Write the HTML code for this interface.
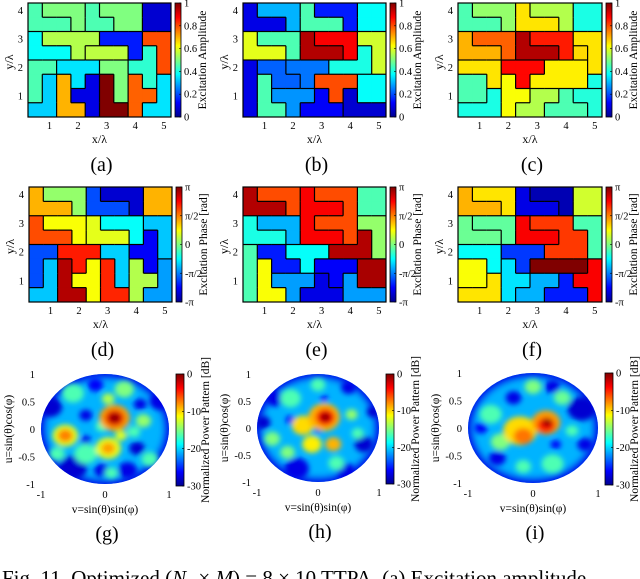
<!DOCTYPE html>
<html><head><meta charset="utf-8"><style>
html,body{margin:0;padding:0;background:#fff;}
svg{display:block;font-family:"Liberation Serif",serif;}
</style></head><body>
<svg id="fig" width="640" height="579" viewBox="0 0 640 579" xmlns="http://www.w3.org/2000/svg">
<defs>
<filter id="blur" x="-30%" y="-30%" width="160%" height="160%"><feGaussianBlur stdDeviation="2.6"/></filter>
<filter id="blur2" x="-30%" y="-30%" width="160%" height="160%"><feGaussianBlur stdDeviation="4"/></filter>
<linearGradient id="jetgrad" x1="0" y1="1" x2="0" y2="0">
<stop offset="0" stop-color="#00008f"/><stop offset="0.125" stop-color="#0000ff"/><stop offset="0.375" stop-color="#00ffff"/><stop offset="0.625" stop-color="#ffff00"/><stop offset="0.875" stop-color="#ff0000"/><stop offset="1" stop-color="#800000"/>
</linearGradient>
</defs>
<text x="2" y="585" font-size="21" text-anchor="start">Fig. 11.  Optimized (<tspan font-style="italic">N</tspan><tspan font-size="14" dy="3">x</tspan><tspan dy="-3"> × </tspan><tspan font-style="italic">M</tspan>) = 8 × 10 TTPA. (a) Excitation amplitude</text>
</svg>
<script>
// ---- data (values normalized 0..1 on the colorbar scale; phase: -pi..pi -> 0..1) ----
const ampA = [
[0.45,0.5,0.5,0.5,0.45,0.5,0.5,0.5,0.08,0.08],
[0.45,0.45,0.45,0.5,0.45,0.45,0.5,0.5,0.08,0.08],
[0.38,0.55,0.55,0.55,0.55,0.15,0.15,0.15,0.8,0.8],
[0.38,0.38,0.38,0.55,0.56,0.56,0.56,0.15,0.42,0.8],
[0.45,0.45,0.35,0.35,0.35,0.5,0.5,0.42,0.42,0.8],
[0.45,0.33,0.7,0.35,0.1,1.0,0.5,0.78,0.42,0.35],
[0.45,0.33,0.7,0.1,0.1,1.0,0.5,0.78,0.78,0.35],
[0.33,0.33,0.7,0.7,0.1,1.0,1.0,0.78,0.35,0.35]];
const ampB = [
[0.1,0.3,0.3,0.3,0.45,0.15,0.15,0.15,0.38,0.38],
[0.1,0.1,0.1,0.3,0.45,0.45,0.45,0.15,0.38,0.38],
[0.6,0.45,0.45,0.45,0.95,0.88,0.88,0.88,0.58,0.58],
[0.6,0.6,0.6,0.45,0.95,0.95,0.95,0.88,0.4,0.58],
[0.1,0.22,0.22,0.24,0.24,0.24,0.4,0.4,0.4,0.58],
[0.1,0.45,0.22,0.22,0.24,0.8,0.8,0.8,0.38,0.38],
[0.1,0.45,0.27,0.27,0.27,0.12,0.8,0.08,0.38,0.38],
[0.1,0.45,0.45,0.27,0.12,0.12,0.12,0.08,0.08,0.08]];
const ampC = [
[0.45,0.52,0.52,0.52,0.65,0.55,0.55,0.55,0.4,0.4],
[0.45,0.45,0.45,0.52,0.65,0.65,0.65,0.55,0.4,0.4],
[0.7,0.78,0.78,0.78,0.95,0.85,0.85,0.85,0.65,0.65],
[0.7,0.7,0.7,0.78,0.95,0.95,0.95,0.85,0.66,0.65],
[0.65,0.65,0.65,0.87,0.87,0.87,0.64,0.64,0.64,0.65],
[0.45,0.45,0.65,0.62,0.87,0.64,0.64,0.64,0.64,0.4],
[0.45,0.45,0.4,0.62,0.62,0.55,0.55,0.45,0.41,0.41],
[0.4,0.4,0.4,0.62,0.55,0.55,0.45,0.45,0.45,0.41]];
const phaseD = [
[0.7,0.52,0.52,0.52,0.2,0.08,0.08,0.08,0.7,0.7],
[0.7,0.7,0.7,0.52,0.2,0.2,0.2,0.08,0.7,0.7],
[0.8,0.62,0.62,0.62,0.6,0.38,0.38,0.38,0.32,0.32],
[0.8,0.8,0.8,0.62,0.6,0.6,0.6,0.38,0.12,0.32],
[0.2,0.2,0.85,0.85,0.85,0.33,0.33,0.12,0.12,0.32],
[0.2,0.32,0.95,0.85,0.62,0.84,0.33,0.55,0.12,0.28],
[0.2,0.32,0.95,0.62,0.62,0.84,0.33,0.55,0.55,0.28],
[0.32,0.32,0.95,0.95,0.62,0.84,0.84,0.55,0.28,0.28]];
const phaseE = [
[0.95,0.8,0.8,0.8,0.88,0.8,0.8,0.8,0.45,0.45],
[0.95,0.95,0.95,0.8,0.88,0.88,0.88,0.8,0.45,0.45],
[0.4,0.3,0.3,0.3,0.88,0.8,0.8,0.8,0.52,0.52],
[0.4,0.4,0.4,0.3,0.88,0.88,0.88,0.8,0.95,0.52],
[0.45,0.15,0.15,0.38,0.38,0.38,0.95,0.95,0.95,0.52],
[0.45,0.62,0.15,0.15,0.38,0.12,0.12,0.12,0.96,0.96],
[0.45,0.62,0.28,0.28,0.28,0.1,0.12,0.28,0.96,0.96],
[0.45,0.62,0.62,0.28,0.1,0.1,0.1,0.28,0.28,0.28]];
const phaseF = [
[0.7,0.65,0.65,0.65,0.1,0.05,0.05,0.05,0.58,0.58],
[0.7,0.7,0.7,0.65,0.1,0.1,0.1,0.05,0.58,0.58],
[0.48,0.47,0.47,0.47,0.88,0.82,0.82,0.82,0.45,0.45],
[0.48,0.48,0.48,0.47,0.88,0.88,0.88,0.82,0.82,0.45],
[0.38,0.38,0.38,0.18,0.18,0.18,0.82,0.82,0.82,0.45],
[0.62,0.62,0.38,0.35,0.18,1.0,1.0,1.0,1.0,0.88],
[0.62,0.62,0.65,0.35,0.35,0.3,0.3,0.15,0.88,0.88],
[0.65,0.65,0.65,0.35,0.3,0.3,0.15,0.15,0.15,0.88]];
const xTicks = [1,2,3,4,5];
const yTicks = [1,2,3,4];
const ampTickLabels = ["0","0.2","0.4","0.6","0.8","1"];
const phaseTickLabels = ["-π","-π/2","0","π/2","π"];
const dbTickLabels = ["-30","-20","-10","0"];
const patTicks = [-1,-0.5,0,0.5,1];
// radiation-pattern lobes: [v, u, radius, level(0..1)]
const lobesG = [[-0.85,0.4,0.18,0.08],[-0.5,-0.7,0.22,0.08],[-0.05,-0.75,0.12,0.1],[0.5,-0.35,0.12,0.08],[0.85,0.5,0.15,0.1],[-0.3,0.25,0.1,0.1],[0.35,-0.75,0.15,0.1],[0.55,0.45,0.1,0.1],[-0.15,0.8,0.12,0.12],[-0.3,-0.2,0.08,0.1],
[-0.5,0.65,0.17,0.45],[0.3,0.72,0.15,0.5],[-0.3,-0.45,0.18,0.45],[0.6,0.15,0.12,0.52],[0.7,-0.55,0.13,0.45],[0.05,0.55,0.1,0.55],[-0.05,0.05,0.1,0.45],[0.45,-0.05,0.1,0.45],[-0.75,-0.45,0.12,0.45],[0.1,-0.8,0.1,0.45],
[-0.62,-0.12,0.2,0.6],[-0.62,-0.12,0.12,0.75],[0.05,-0.35,0.2,0.6],[0.05,-0.35,0.11,0.72],[0.25,-0.12,0.09,0.6],[0.15,0.2,0.24,0.72],[0.15,0.2,0.15,0.9],[0.15,0.2,0.08,1.0]];
const lobesH = [[-0.9,0.1,0.12,0.08],[0.75,-0.3,0.15,0.08],[-0.35,-0.75,0.2,0.1],[0.5,0.75,0.12,0.1],[0.1,0.55,0.06,0.12],[0.0,-0.05,0.05,0.12],[-0.7,0.55,0.15,0.1],[0.45,-0.8,0.15,0.1],[-0.45,0.15,0.08,0.12],[0.9,0.3,0.1,0.08],
[-0.45,0.55,0.17,0.45],[-0.75,-0.2,0.13,0.5],[0.55,0.25,0.1,0.52],[0.3,-0.65,0.13,0.45],[-0.5,-0.45,0.12,0.5],[0.0,0.8,0.12,0.45],[0.65,-0.1,0.1,0.45],
[-0.25,0.05,0.18,0.66],[-0.1,-0.3,0.16,0.64],[0.25,-0.3,0.13,0.7],[0.1,0.2,0.26,0.7],[0.12,0.2,0.16,0.88],[0.12,0.2,0.08,1.0]];
const lobesI = [[0.75,0.35,0.22,0.08],[0.8,-0.3,0.12,0.1],[-0.3,0.55,0.12,0.1],[-0.55,-0.55,0.13,0.1],[0.1,-0.05,0.05,0.15],[0.3,0.75,0.12,0.1],[-0.8,0.0,0.1,0.12],[0.35,-0.3,0.08,0.12],
[-0.65,0.25,0.17,0.45],[-0.5,-0.25,0.15,0.5],[0.3,-0.65,0.17,0.45],[0.0,0.75,0.13,0.5],[0.45,0.55,0.13,0.48],[-0.15,-0.7,0.12,0.45],[0.6,-0.05,0.1,0.45],
[-0.2,-0.05,0.26,0.66],[-0.15,-0.15,0.15,0.76],[0.2,0.1,0.22,0.72],[0.2,0.05,0.14,0.85],[0.22,0.1,0.08,0.97]];

const NS="http://www.w3.org/2000/svg";
const svg=document.getElementById('fig');
function el(tag,attrs,parent,text){const e=document.createElementNS(NS,tag);for(const k in attrs)e.setAttribute(k,attrs[k]);if(text!==undefined)e.textContent=text;(parent||svg).appendChild(e);return e;}
function jet(t){const c=v=>Math.max(0,Math.min(1,v));const r=c(1.5-Math.abs(4*t-3)),g=c(1.5-Math.abs(4*t-2)),b=c(1.5-Math.abs(4*t-1));return `rgb(${Math.round(r*255)},${Math.round(g*255)},${Math.round(b*255)})`;}

function colorbar(g,x,y0,y1,w,labels,title,name){
  const r=el('rect',{x:x,y:y0,width:w,height:y1-y0,fill:'url(#jetgrad)',stroke:'#000','stroke-width':0.8},g);
  
  
  labels.forEach((l,i)=>{const yy=y1-(y1-y0)*i/(labels.length-1);
    el('line',{x1:x+w-2,x2:x+w,y1:yy,y2:yy,stroke:'#000','stroke-width':0.6},g);
    const t=el('text',{x:x+w+3,y:yy+3.5,'font-size':10.5},g,l);
    
    });
  const tt=el('text',{x:0,y:0,'font-size':11.5,'text-anchor':'middle',transform:`translate(${x+w+25},${(y0+y1)/2}) rotate(-90)`},g,title);
  
  
}

function heatPanel(data,x0,y0,w,h,label,cbTitle,cbLabels,name){
  const g=el('g',{});
  
  
  const cols=10,rows=8,cw=w/cols,ch=h/rows;
  data.forEach((row,ri)=>row.forEach((v,ci)=>{
    const c=el('rect',{x:x0+ci*cw,y:y0+ri*ch,width:cw+0.4,height:ch+0.4,fill:jet(v)},g);
    
    
  }));
  data.forEach((row,ri)=>row.forEach((v,ci)=>{
    if(ci<cols-1&&Math.abs(row[ci+1]-v)>0.001) el('line',{x1:x0+(ci+1)*cw,x2:x0+(ci+1)*cw,y1:y0+ri*ch,y2:y0+(ri+1)*ch,stroke:'#000','stroke-width':1.2},g);
    if(ri<rows-1&&Math.abs(data[ri+1][ci]-v)>0.001) el('line',{x1:x0+ci*cw,x2:x0+(ci+1)*cw,y1:y0+(ri+1)*ch,y2:y0+(ri+1)*ch,stroke:'#000','stroke-width':1.2},g);
  }));
  el('rect',{x:x0,y:y0,width:w,height:h,fill:'none',stroke:'#000','stroke-width':1.2},g);
  const sx=v=>x0+(v-0.25)/5*w, sy=v=>y0+h-(v-0.25)/4*h;
  xTicks.forEach(t=>{const tx=el('text',{x:sx(t),y:y0+h+12,'font-size':10.5,'text-anchor':'middle'},g,String(t));
    });
  yTicks.forEach(t=>{const ty=el('text',{x:x0-5,y:sy(t)+4,'font-size':10.5,'text-anchor':'end'},g,String(t));
    });
  const xl=el('text',{x:x0+w/2,y:y0+h+26,'font-size':12,'text-anchor':'middle'},g,'x/λ');
  
  const yl=el('text',{x:0,y:0,'font-size':12,'text-anchor':'middle',transform:`translate(${x0-15},${y0+h/2+2}) rotate(-90)`},g,'y/λ');
  
  colorbar(g,x0+w+4,y0,y0+h,6,cbLabels,cbTitle,name);
  const pl=el('text',{x:x0+w/2+2,y:y0+h+54,'font-size':20,'text-anchor':'middle'},g,label);
  
}

heatPanel(ampA,28,3,143,114,'(a)','Excitation Amplitude',ampTickLabels,'panel-a');
heatPanel(ampB,243,3,143,114,'(b)','Excitation Amplitude',ampTickLabels,'panel-b');
heatPanel(ampC,458,3,144,114,'(c)','Excitation Amplitude',ampTickLabels,'panel-c');
heatPanel(phaseD,29,187,143,115,'(d)','Excitation Phase [rad]',phaseTickLabels,'panel-d');
heatPanel(phaseE,243,187,143,115,'(e)','Excitation Phase [rad]',phaseTickLabels,'panel-e');
heatPanel(phaseF,458,187,144,115,'(f)','Excitation Phase [rad]',phaseTickLabels,'panel-f');

function patternPanel(lobes,cx,cy,rx,ry,label,name,id){
  const g=el('g',{});
  
  
  const cp=el('clipPath',{id:'clip'+id},svg.querySelector('defs'));
  el('ellipse',{cx:cx,cy:cy,rx:rx,ry:ry},cp);
  const inner=el('g',{'clip-path':`url(#clip${id})`},g);
  el('ellipse',{cx:cx,cy:cy,rx:rx+2,ry:ry+2,fill:jet(0.3)},inner);
  el('ellipse',{cx:cx,cy:cy,rx:rx+5,ry:ry+5,fill:'none',stroke:jet(0.1),'stroke-width':16,filter:'url(#blur2)'},inner);
  const bl=el('g',{filter:'url(#blur)'},inner);
  const sx=v=>cx+v*rx, sy=u=>cy-u*ry;
  lobes.forEach(l=>{const c=el('ellipse',{cx:sx(l[0]),cy:sy(l[1]),rx:l[2]*rx,ry:l[2]*ry,fill:jet(l[3])},bl);
    });
  const x0=cx-rx,x1=cx+rx,y0=cy-ry,y1=cy+ry;
  patTicks.forEach(t=>{const ty=el('text',{x:x0-6,y:cy-t*ry+4,'font-size':10.5,'text-anchor':'end'},g,String(t));
    });
  [-1,0,1].forEach(t=>{const tx=el('text',{x:cx+t*rx,y:y1+14,'font-size':10.5,'text-anchor':'middle'},g,String(t));
    });
  const xl=el('text',{x:cx,y:y1+29,'font-size':11.5,'text-anchor':'middle'},g,'v=sin(θ)sin(φ)');
  
  const yl=el('text',{x:0,y:0,'font-size':11.5,'text-anchor':'middle',transform:`translate(${x0-29},${cy}) rotate(-90)`},g,'u=sin(θ)cos(φ)');
  
  colorbar(g,x1+7,y0,y1+2,8,dbTickLabels,'Normalized Power Pattern [dB]',name);
  const pl=el('text',{x:cx+2,y:y1+56,'font-size':20,'text-anchor':'middle'},g,label);
  
}
patternPanel(lobesG,105,429,64,55,'(g)','panel-g','g');
patternPanel(lobesH,318,428,61,54,'(h)','panel-h','h');
patternPanel(lobesI,533,428,65,55,'(i)','panel-i','i');
</script>
</body></html>
